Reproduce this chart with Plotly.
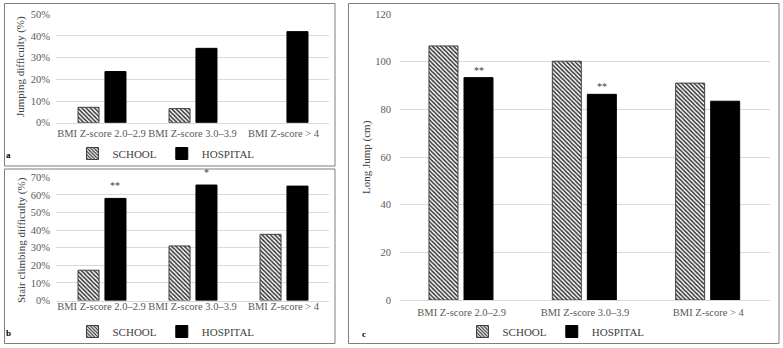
import plotly.graph_objects as go

# ---------------- data ----------------
categories = ["BMI Z-score 2.0–2.9", "BMI Z-score 3.0–3.9", "BMI Z-score > 4"]
groups = ["SCHOOL", "HOSPITAL"]

jump_school = [7.1, 6.5, None]
jump_hospital = [23.6, 34.3, 42.0]

stair_school = [17.2, 31.0, 37.6]
stair_hospital = [58.0, 65.6, 65.0]

longjump_school = [106.6, 100.2, 91.0]
longjump_hospital = [93.3, 86.3, 83.4]

stair_sig = ["**", "*", ""]
longjump_sig = ["**", "**", ""]

# ---------------- styling ----------------
W, H = 783, 348
FONT = "Liberation Serif"
TXT = "#404040"
GRID = "#d9d9d9"

def px_x(p):
    return p / W

def px_y(p):
    return 1 - p / H

fig = go.Figure()

school_marker = dict(
    color="white",
    pattern=dict(shape="\\", fgcolor="#333333", bgcolor="#ffffff", size=3, solidity=0.5),
    line=dict(color="#404040", width=1),
)
hosp_marker = dict(color="black", line=dict(color="black", width=1))

ab_w, ab_off_s, ab_off_h = 0.231, -0.258, 0.038
c_w, c_off_s, c_off_h = 0.235, -0.265, 0.019

panels = [
    ("x", "y", "legend", jump_school, jump_hospital, ab_w, ab_off_s, ab_off_h),
    ("x2", "y2", "legend2", stair_school, stair_hospital, ab_w, ab_off_s, ab_off_h),
    ("x3", "y3", "legend3", longjump_school, longjump_hospital, c_w, c_off_s, c_off_h),
]

for xa, ya, lg, s_vals, h_vals, w, off_s, off_h in panels:
    fig.add_trace(go.Bar(
        x=categories, y=s_vals, name=groups[0], xaxis=xa, yaxis=ya, legend=lg,
        marker=school_marker, width=w, offset=off_s, hoverinfo="x+y+name",
    ))
    fig.add_trace(go.Bar(
        x=categories, y=h_vals, name=groups[1], xaxis=xa, yaxis=ya, legend=lg,
        marker=hosp_marker, width=w, offset=off_h, hoverinfo="x+y+name",
    ))

tickfont = dict(family=FONT, size=10.5, color="#595959")

def xaxis(domain, anchor, standoff):
    return dict(domain=domain, anchor=anchor, type="category", range=[-0.5, 2.5],
                showgrid=False, showline=True, linecolor=GRID, linewidth=1,
                ticks="", tickfont=tickfont, ticklabelstandoff=standoff, fixedrange=True,
                automargin=False)

def yaxis(domain, anchor, rng, dtick, suffix, standoff):
    return dict(domain=domain, anchor=anchor, range=rng, dtick=dtick, ticksuffix=suffix,
                showgrid=True, gridcolor=GRID, gridwidth=1, zeroline=False,
                showline=False, ticks="", tickfont=tickfont, ticklabelstandoff=standoff,
                fixedrange=True, automargin=False)

fig.update_layout(
    template="none",
    width=W, height=H,
    margin=dict(l=0, r=0, t=0, b=0, pad=0, autoexpand=False),
    paper_bgcolor="white", plot_bgcolor="white",
    barmode="overlay",
    font=dict(family=FONT, color=TXT, size=11),
    xaxis=xaxis([px_x(56), px_x(329)], "y", 1),
    yaxis=yaxis([px_y(122.7), px_y(14.3)], "x", [0, 50], 10, "%", 5),
    xaxis2=xaxis([px_x(56), px_x(329)], "y2", -4),
    yaxis2=yaxis([px_y(300.5), px_y(177.3)], "x2", [0, 70], 10, "%", 5),
    xaxis3=xaxis([px_x(400), px_x(770)], "y3", 2),
    yaxis3=yaxis([px_y(300), px_y(14)], "x3", [0, 120], 20, "", 8),
)

leg_common = dict(orientation="h", xanchor="center", yanchor="middle",
                  font=dict(family=FONT, size=11, color=TXT), bgcolor="rgba(0,0,0,0)",
                  itemwidth=30, tracegroupgap=0, borderwidth=0)
fig.update_layout(
    legend=dict(x=px_x(166), y=px_y(153.5), **leg_common),
    legend2=dict(x=px_x(166), y=px_y(331.5), **leg_common),
    legend3=dict(x=px_x(556), y=px_y(331.5), **leg_common),
)

# panel boxes
for x0, y0, x1, y1 in [(4.5, 3.5, 335, 166), (4.5, 169, 335, 343.5), (348.5, 3.5, 779, 343.5)]:
    fig.add_shape(type="rect", xref="paper", yref="paper",
                  x0=px_x(x0), x1=px_x(x1), y0=px_y(y0), y1=px_y(y1),
                  line=dict(color="#7f7f7f", width=1), fillcolor="rgba(0,0,0,0)", layer="above")

ann = []
ann.append(dict(text="Jumping difficulty (%)", x=px_x(21), y=px_y(67), textangle=-90))
ann.append(dict(text="Stair climbing difficulty (%)", x=px_x(21), y=px_y(240), textangle=-90))
ann.append(dict(text="Long Jump (cm)", x=px_x(367), y=px_y(157), textangle=-90))
for a in ann:
    a.update(xref="paper", yref="paper", showarrow=False, xanchor="center", yanchor="middle",
             font=dict(family=FONT, size=11, color=TXT))
for letter, x, y in [("a", 8, 155), ("b", 8, 332.5), ("c", 363.5, 334)]:
    ann.append(dict(text=f"<b>{letter}</b>", x=px_x(x), y=px_y(y), xref="paper", yref="paper",
                    showarrow=False, xanchor="center", yanchor="middle",
                    font=dict(family=FONT, size=9, color="black")))
for sig, vals, xa, ya, w, off, ysh in [
    (stair_sig, stair_hospital, "x2", "y2", ab_w, ab_off_h, 5),
    (longjump_sig, longjump_hospital, "x3", "y3", c_w, c_off_h, 0),
]:
    for i, (s, v) in enumerate(zip(sig, vals)):
        if s:
            ann.append(dict(text=s, x=i + off + w / 2, y=v, xref=xa, yref=ya,
                            showarrow=False, xanchor="center", yanchor="bottom", yshift=ysh,
                            font=dict(family=FONT, size=10, color=TXT)))
fig.update_layout(annotations=ann)

fig.write_html("out.html", config={"displayModeBar": False},
               post_script="document.body.style.margin='0';")
